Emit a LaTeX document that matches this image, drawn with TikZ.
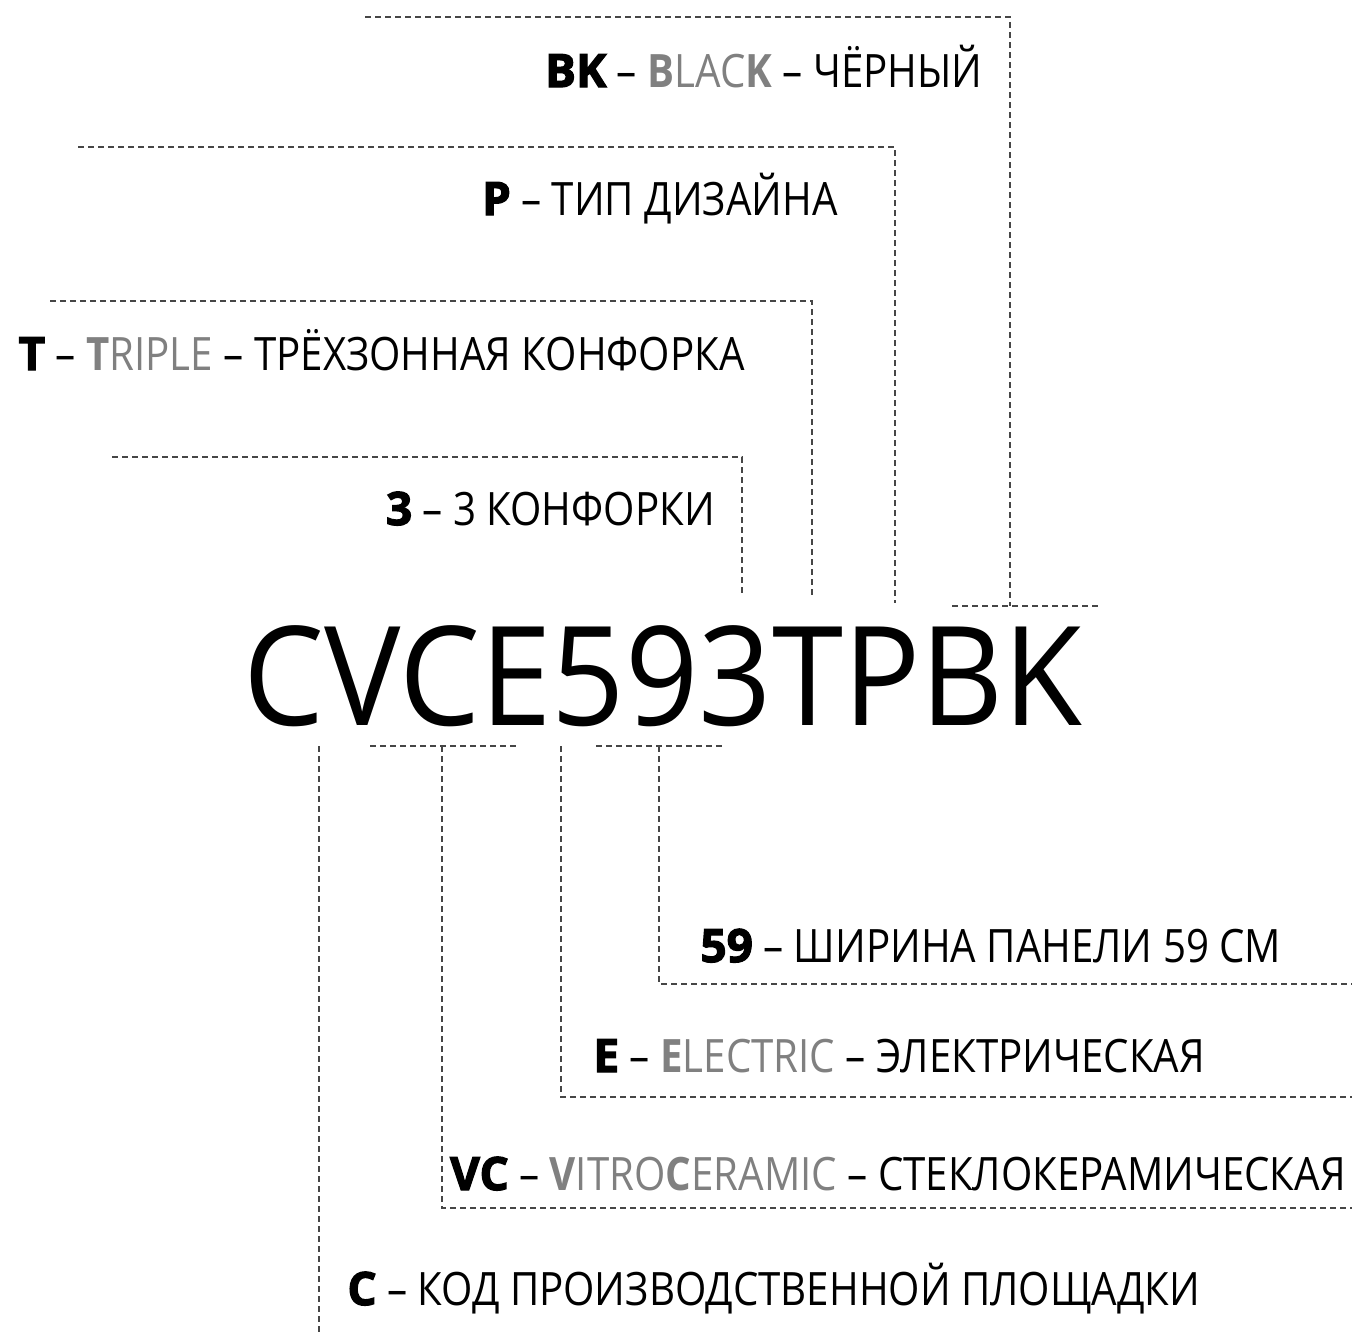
\documentclass[tikz,border=0pt]{standalone}
\usepackage{fontspec}
\setmainfont{Open Sans}[FakeStretch=0.875]
\newfontfamily\heavyfont{Open Sans}[FakeStretch=1.0, BoldFeatures={FakeBold=2.6}]
\newfontfamily\codefont{Open Sans}[FakeStretch=0.93]
\usetikzlibrary{positioning}
\usepackage{xcolor}
\definecolor{latin}{RGB}{128,128,128}
\definecolor{guide}{RGB}{70,70,70}
\newcommand{\cd}[1]{{\heavyfont\bfseries #1}}
\newcommand{\lt}[1]{\textcolor{latin}{#1}}
\newcommand{\lb}[1]{\textcolor{latin}{\bfseries #1}}

\begin{document}
\begin{tikzpicture}[x=0.5pt,y=-0.5pt]
		\tikzstyle{label} = [inner sep=0pt, font=\fontsize{23}{26}\selectfont]
		\tikzstyle{code} = [inner sep=0pt, font=\codefont\fontsize{69}{72}\selectfont]
		\tikzstyle{line} = [draw, color=guide, line width=0.7pt, dash pattern=on 3pt off 2pt]
		\useasboundingbox (0,0) rectangle (1352,1333);

		% Model code
		\node [code, anchor=base west] (model) at (243,725) {CVCE593TPBK};

		% Upper labels
		\node [label, anchor=base east] (lbk) at (983,87) {\cd{BK} -- \lb{B}\lt{LAC}\lb{K} -- ЧЁРНЫЙ};
		\node [label, anchor=base east] (lp) at (838,215) {\cd{P} -- ТИП ДИЗАЙНА};
		\node [label, anchor=base east] (lt) at (745,370) {\cd{T} -- \lb{T}\lt{RIPLE} -- ТРЁХЗОННАЯ КОНФОРКА};
		\node [label, anchor=base east] (l3) at (715,525) {\cd{3} -- 3 КОНФОРКИ};

		% Lower labels
		\node [label, anchor=base west] (l59) at (700,962) {\cd{59} -- ШИРИНА ПАНЕЛИ 59 СМ};
		\node [label, anchor=base west] (le) at (593,1072) {\cd{E} -- \lb{E}\lt{LECTRIC} -- ЭЛЕКТРИЧЕСКАЯ};
		\node [label, anchor=base east] (lvc) at (1346,1190) {\cd{VC} -- \lb{V}\lt{ITRO}\lb{C}\lt{ERAMIC} -- СТЕКЛОКЕРАМИЧЕСКАЯ};
		\node [label, anchor=base west] (lc) at (347,1305) {\cd{C} -- КОД ПРОИЗВОДСТВЕННОЙ ПЛОЩАДКИ};

		% corners
		\coordinate (bk0) at (365,17);
		\coordinate (bk1) at (1010,17);
		\coordinate (bk2) at (1010,606);
		\coordinate (bk3) at (952,606);
		\coordinate (bk4) at (1098,606);
		\coordinate (p0) at (78,147);
		\coordinate (p1) at (895,147);
		\coordinate (p2) at (895,603);
		\coordinate (t0) at (50,301);
		\coordinate (t1) at (812,301);
		\coordinate (t2) at (812,598);
		\coordinate (n0) at (112,457);
		\coordinate (n1) at (742,457);
		\coordinate (n2) at (742,596);
		\coordinate (c0) at (319,746);
		\coordinate (c1) at (319,1333);
		\coordinate (vc0) at (370,746);
		\coordinate (vc1) at (517,746);
		\coordinate (vc2) at (442,746);
		\coordinate (vc3) at (442,1208);
		\coordinate (vc4) at (1352,1208);
		\coordinate (e0) at (561,746);
		\coordinate (e1) at (561,1097);
		\coordinate (e2) at (1352,1097);
		\coordinate (w0) at (596,746);
		\coordinate (w1) at (722,746);
		\coordinate (w2) at (659,746);
		\coordinate (w3) at (659,984);
		\coordinate (w4) at (1352,984);

		% guides
		\draw [line] (bk0) -- (bk1) -- (bk2);
		\draw [line] (bk3) -- (bk4);
		\draw [line] (p0) -- (p1) -- (p2);
		\draw [line] (t0) -- (t1) -- (t2);
		\draw [line] (n0) -- (n1) -- (n2);
		\draw [line] (c0) -- (c1);
		\draw [line] (vc0) -- (vc1);
		\draw [line] (vc2) -- (vc3) -- (vc4);
		\draw [line] (e0) -- (e1) -- (e2);
		\draw [line] (w0) -- (w1);
		\draw [line] (w2) -- (w3) -- (w4);
	\end{tikzpicture}
\end{document}
